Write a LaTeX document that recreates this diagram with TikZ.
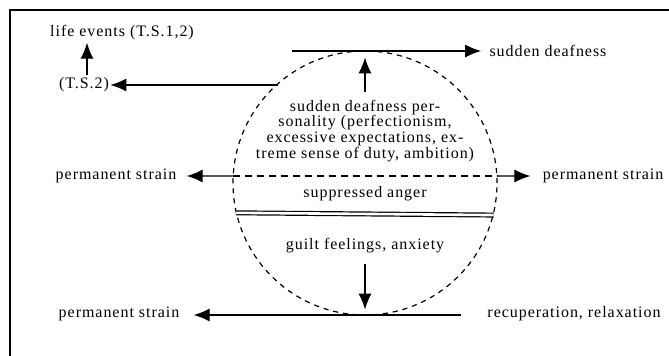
\documentclass[tikz,border=0pt]{standalone}
\usepackage{fontspec}
\setmainfont{Liberation Serif}[LetterSpace=6]
\usetikzlibrary{arrows.meta}
\begin{document}
\begin{tikzpicture}[x=0.5pt,y=-0.5pt,
  lbl/.style={inner sep=1pt, font=\fontsize{8pt}{7.9pt}\selectfont},
  thin/.style={line width=0.6pt},
  tip/.tip={Latex[length=8pt,width=6.5pt]},
  arr/.style={thin, -tip},
  dsh/.style={dash pattern=on 2.6pt off 2.4pt}]
\useasboundingbox (0,0) rectangle (669,356);
% frame (top and left edges only)
\draw[line width=0.9pt] (10,356) -- (10,10) -- (669,10);

% dashed circle
\node[circle, draw, thin, dsh, minimum size=132pt, inner sep=0pt] (ell) at (365,183) {};

% texts
\node[lbl] (lifeev) at (122,33) {life events (T.S.1,2)};
\node[lbl] (ts2) at (84,85) {(T.S.2)};
\node[lbl] (sdeaf) at (548,51) {sudden deafness};
\node[lbl, align=center] (pers) at (365,131) {sudden deafness per-\\sonality (perfectionism,\\excessive expectations, ex-\\treme sense of duty, ambition)};
\node[lbl] (psl) at (116,176) {permanent strain};
\node[lbl] (psr) at (603,176) {permanent strain};
\node[lbl] (anger) at (365,194) {suppressed anger};
\node[lbl] (guilt) at (365,246) {guilt feelings, anxiety};
\node[lbl] (psbl) at (119,314) {permanent strain};
\node[lbl] (rec) at (574,314) {recuperation, relaxation};

\coordinate (tl) at (292,51);
\coordinate (br) at (461,315);

% connectors
\draw[arr] ([xshift=1.5pt]ts2.north) -- ([xshift=1.5pt]ts2.north |- lifeev.south);
\draw[arr] (ts2.east -| ell.131) -- ([xshift=-0.5pt]ts2.east);
\draw[arr] (tl) -- ([xshift=-3pt]sdeaf.west);
\draw[arr] ([yshift=3pt]pers.north) -- ([yshift=-3.5pt]ell.north);
% permanent strain <--> permanent strain (dashed inside the circle)
\draw[arr] (ell.177) -- ([xshift=4pt]psl.east);
\draw[arr] (ell.3) -- ([xshift=-5pt]psr.west);
\draw[thin, dash pattern=on 3.5pt off 2.5pt] (ell.177) -- (ell.3);
\draw[thin, double, double distance=1.3pt] (ell.193.6) -- (ell.346.4);
\draw[arr] ([yshift=-4pt]guilt.south) -- ([yshift=3pt]ell.south);
\draw[arr] (br) -- ([xshift=6pt]psbl.east |- br);
\end{tikzpicture}
\end{document}
